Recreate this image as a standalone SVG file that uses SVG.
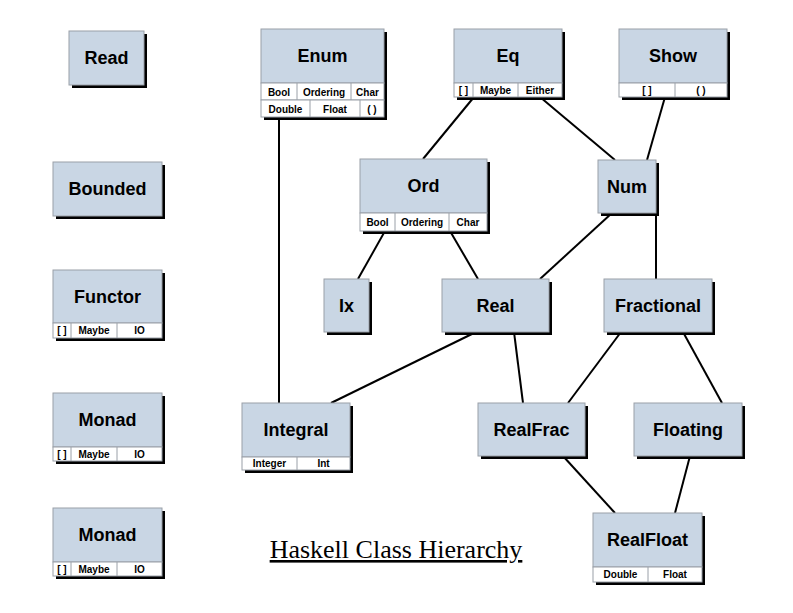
<svg xmlns="http://www.w3.org/2000/svg" width="793" height="613" viewBox="0 0 793 613">
<style>
.sh{fill:#000}
.hd{fill:#c9d6e4;stroke:#9aa0a8;stroke-width:1}
.rw{fill:#fff;stroke:#9aa0a8;stroke-width:1}
.t{font-family:"Liberation Sans",Arial,sans-serif;font-weight:bold;font-size:18px;text-anchor:middle;fill:#000}
.s{font-family:"Liberation Sans",Arial,sans-serif;font-weight:bold;font-size:10px;text-anchor:middle;fill:#000}
.c line{stroke:#000;stroke-width:2}
.dv{stroke:#9aa0a8;stroke-width:1}
</style>
<rect width="793" height="613" fill="#fff"/>
<g class="c" id="connectors">
<line x1="279" y1="117" x2="279" y2="403"/>
<line x1="474" y1="97" x2="423" y2="159"/>
<line x1="540" y1="97" x2="615" y2="160"/>
<line x1="665" y1="97" x2="647" y2="160"/>
<line x1="385" y1="231" x2="358" y2="279"/>
<line x1="450" y1="231" x2="478" y2="279"/>
<line x1="612" y1="213" x2="540" y2="279"/>
<line x1="656" y1="213" x2="656" y2="279"/>
<line x1="476" y1="332" x2="331" y2="403"/>
<line x1="514" y1="332" x2="523" y2="403"/>
<line x1="621" y1="332" x2="568" y2="403"/>
<line x1="683" y1="332" x2="722" y2="403"/>
<line x1="563" y1="456" x2="615" y2="513"/>
<line x1="690" y1="456" x2="675" y2="513"/>
</g>
<g id="read">
<rect class="sh" x="72" y="34" width="75" height="54"/>
<rect class="hd" x="69" y="31" width="75" height="54"/>
<text class="t" x="106.5" y="64">Read</text>
</g>
<g id="enum">
<rect class="sh" x="264" y="32" width="123" height="88"/>
<rect class="hd" x="261" y="29" width="123" height="54"/>
<rect class="rw" x="261" y="83" width="123" height="17"/>
<rect class="rw" x="261" y="100" width="123" height="17"/>
<line class="dv" x1="297" y1="83" x2="297" y2="100"/>
<line class="dv" x1="351" y1="83" x2="351" y2="100"/>
<line class="dv" x1="310" y1="100" x2="310" y2="117"/>
<line class="dv" x1="360" y1="100" x2="360" y2="117"/>
<text class="t" x="322.5" y="62">Enum</text>
<text class="s" x="279" y="95.5">Bool</text>
<text class="s" x="324" y="95.5">Ordering</text>
<text class="s" x="367.5" y="95.5">Char</text>
<text class="s" x="285.5" y="112.5">Double</text>
<text class="s" x="335" y="112.5">Float</text>
<text class="s" x="372" y="112.5">( )</text>
</g>
<g id="eq">
<rect class="sh" x="457" y="32" width="108" height="68"/>
<rect class="hd" x="454" y="29" width="108" height="54"/>
<rect class="rw" x="454" y="83" width="108" height="14"/>
<line class="dv" x1="473" y1="83" x2="473" y2="97"/>
<line class="dv" x1="518" y1="83" x2="518" y2="97"/>
<text class="t" x="508" y="62">Eq</text>
<text class="s" x="463.5" y="94">[ ]</text>
<text class="s" x="495.5" y="94">Maybe</text>
<text class="s" x="540" y="94">Either</text>
</g>
<g id="show">
<rect class="sh" x="622" y="32" width="108" height="68"/>
<rect class="hd" x="619" y="29" width="108" height="54"/>
<rect class="rw" x="619" y="83" width="108" height="14"/>
<line class="dv" x1="675" y1="83" x2="675" y2="97"/>
<text class="t" x="673" y="62">Show</text>
<text class="s" x="647" y="94">[ ]</text>
<text class="s" x="701" y="94">( )</text>
</g>
<g id="bounded">
<rect class="sh" x="56" y="165" width="109" height="54"/>
<rect class="hd" x="53" y="162" width="109" height="54"/>
<text class="t" x="107.5" y="195">Bounded</text>
</g>
<g id="ord">
<rect class="sh" x="363" y="162" width="127" height="72"/>
<rect class="hd" x="360" y="159" width="127" height="54"/>
<rect class="rw" x="360" y="213" width="127" height="18"/>
<line class="dv" x1="395" y1="213" x2="395" y2="231"/>
<line class="dv" x1="449" y1="213" x2="449" y2="231"/>
<text class="t" x="423.5" y="192">Ord</text>
<text class="s" x="377.5" y="226">Bool</text>
<text class="s" x="422" y="226">Ordering</text>
<text class="s" x="468" y="226">Char</text>
</g>
<g id="num">
<rect class="sh" x="601" y="163" width="58" height="53"/>
<rect class="hd" x="598" y="160" width="58" height="53"/>
<text class="t" x="627" y="193">Num</text>
</g>
<g id="functor">
<rect class="sh" x="56" y="273" width="109" height="68"/>
<rect class="hd" x="53" y="270" width="109" height="53"/>
<rect class="rw" x="53" y="323" width="109" height="15"/>
<line class="dv" x1="71" y1="323" x2="71" y2="338"/>
<line class="dv" x1="117" y1="323" x2="117" y2="338"/>
<text class="t" x="107.5" y="303">Functor</text>
<text class="s" x="62" y="334">[ ]</text>
<text class="s" x="94" y="334">Maybe</text>
<text class="s" x="139.5" y="334">IO</text>
</g>
<g id="ix">
<rect class="sh" x="327" y="282" width="45" height="53"/>
<rect class="hd" x="324" y="279" width="45" height="53"/>
<text class="t" x="346.5" y="312">Ix</text>
</g>
<g id="real">
<rect class="sh" x="445" y="282" width="107" height="53"/>
<rect class="hd" x="442" y="279" width="107" height="53"/>
<text class="t" x="495.5" y="312">Real</text>
</g>
<g id="fractional">
<rect class="sh" x="607" y="282" width="108" height="53"/>
<rect class="hd" x="604" y="279" width="108" height="53"/>
<text class="t" x="658" y="312">Fractional</text>
</g>
<g id="monad1">
<rect class="sh" x="56" y="396" width="109" height="68"/>
<rect class="hd" x="53" y="393" width="109" height="54"/>
<rect class="rw" x="53" y="447" width="109" height="14"/>
<line class="dv" x1="71" y1="447" x2="71" y2="461"/>
<line class="dv" x1="117" y1="447" x2="117" y2="461"/>
<text class="t" x="107.5" y="426">Monad</text>
<text class="s" x="62" y="458">[ ]</text>
<text class="s" x="94" y="458">Maybe</text>
<text class="s" x="139.5" y="458">IO</text>
</g>
<g id="integral">
<rect class="sh" x="245" y="406" width="108" height="67"/>
<rect class="hd" x="242" y="403" width="108" height="54"/>
<rect class="rw" x="242" y="457" width="108" height="13"/>
<line class="dv" x1="297" y1="457" x2="297" y2="470"/>
<text class="t" x="296" y="436">Integral</text>
<text class="s" x="269.5" y="467">Integer</text>
<text class="s" x="323.5" y="467">Int</text>
</g>
<g id="realfrac">
<rect class="sh" x="481" y="406" width="107" height="53"/>
<rect class="hd" x="478" y="403" width="107" height="53"/>
<text class="t" x="531.5" y="436">RealFrac</text>
</g>
<g id="floating">
<rect class="sh" x="637" y="406" width="108" height="53"/>
<rect class="hd" x="634" y="403" width="108" height="53"/>
<text class="t" x="688" y="436">Floating</text>
</g>
<g id="monad2">
<rect class="sh" x="56" y="511" width="109" height="68"/>
<rect class="hd" x="53" y="508" width="109" height="54"/>
<rect class="rw" x="53" y="562" width="109" height="14"/>
<line class="dv" x1="71" y1="562" x2="71" y2="576"/>
<line class="dv" x1="117" y1="562" x2="117" y2="576"/>
<text class="t" x="107.5" y="541">Monad</text>
<text class="s" x="62" y="573">[ ]</text>
<text class="s" x="94" y="573">Maybe</text>
<text class="s" x="139.5" y="573">IO</text>
</g>
<g id="realfloat">
<rect class="sh" x="596" y="516" width="109" height="69"/>
<rect class="hd" x="593" y="513" width="109" height="54"/>
<rect class="rw" x="593" y="567" width="109" height="15"/>
<line class="dv" x1="648" y1="567" x2="648" y2="582"/>
<text class="t" x="647.5" y="546">RealFloat</text>
<text class="s" x="620.5" y="578">Double</text>
<text class="s" x="675" y="578">Float</text>
</g>
<g id="title">
<text x="396" y="558" font-family="'Liberation Serif','Times New Roman',serif" font-size="26" text-anchor="middle" text-decoration="underline" fill="#000">Haskell Class Hierarchy</text>
</g>
</svg>
